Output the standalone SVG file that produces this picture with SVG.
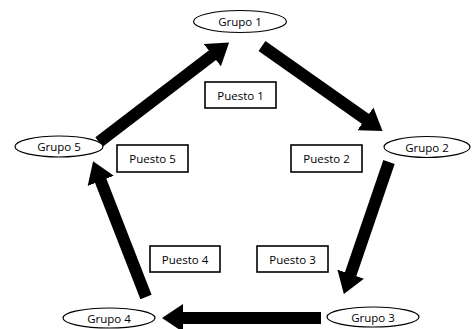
<svg xmlns="http://www.w3.org/2000/svg" width="472" height="329" viewBox="0 0 472 329">
<style>
.n ellipse{fill:#fff;stroke:#000;stroke-width:1.2}
.n rect{fill:#fff;stroke:#000;stroke-width:1.6}
text{font-family:"Open Sans","Liberation Sans",sans-serif;font-size:11.5px;fill:#000;text-anchor:middle;dominant-baseline:central}
.c line{stroke:#000;stroke-width:12;marker-end:url(#ah)}
</style>
<defs>
<marker id="ah" markerUnits="userSpaceOnUse" markerWidth="22" markerHeight="28" refX="2" refY="14" orient="auto" viewBox="0 0 22 28">
<path d="M0,0 L21,14 L0,28 z" fill="#000"/>
</marker>
</defs>
<rect width="472" height="329" fill="#fff"/>
<g class="c" id="connectors">
<line x1="262" y1="46" x2="367" y2="120"/>
<line x1="389" y1="162" x2="350" y2="276"/>
<line x1="321" y1="318" x2="181" y2="318"/>
<line x1="146" y1="297" x2="100" y2="179"/>
<line x1="99" y1="142" x2="214" y2="54"/>
</g>
<g class="n" id="grupo1"><ellipse cx="240" cy="21.5" rx="46.5" ry="11"/><text x="240" y="21.5">Grupo 1</text></g>
<g class="n" id="grupo2"><ellipse cx="427" cy="147" rx="43" ry="10.5"/><text x="427" y="147">Grupo 2</text></g>
<g class="n" id="grupo3"><ellipse cx="373" cy="317" rx="46" ry="10"/><text x="373" y="317">Grupo 3</text></g>
<g class="n" id="grupo4"><ellipse cx="109" cy="318" rx="46" ry="10"/><text x="109" y="318">Grupo 4</text></g>
<g class="n" id="grupo5"><ellipse cx="59" cy="146.5" rx="44" ry="10.5"/><text x="59" y="146.5">Grupo 5</text></g>
<g class="n" id="puesto1"><rect x="205" y="82" width="71" height="26"/><text x="240.5" y="95">Puesto 1</text></g>
<g class="n" id="puesto2"><rect x="291" y="145" width="71" height="27"/><text x="326.5" y="158.5">Puesto 2</text></g>
<g class="n" id="puesto3"><rect x="257" y="246" width="71" height="26"/><text x="292.5" y="259">Puesto 3</text></g>
<g class="n" id="puesto4"><rect x="150" y="246" width="70" height="26"/><text x="185" y="259">Puesto 4</text></g>
<g class="n" id="puesto5"><rect x="117" y="145" width="71" height="27"/><text x="152.5" y="158.5">Puesto 5</text></g>
</svg>
